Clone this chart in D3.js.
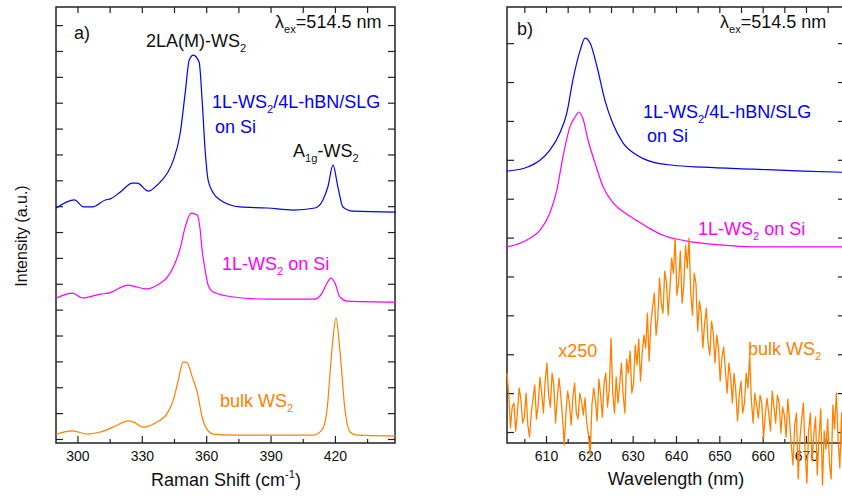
<!DOCTYPE html>
<html><head><meta charset="utf-8">
<script src="https://cdn.jsdelivr.net/npm/d3@7"></script>
<style>
html,body{margin:0;padding:0;background:#fff;}
svg{display:block;font-family:"Liberation Sans",Arial,Helvetica,sans-serif;}
</style></head><body>
<svg id="chart" width="842" height="497"></svg>
<script>
// ---------- DATA ----------
// Panel a) Raman spectra: [Raman shift (cm-1), intensity (a.u., offset)]
const ramanHetero = [[290.2,8.93],[298.6,9.24],[302.8,8.97],[307,8.97],[313,9.24],[315.3,9.28],[320,9.55],[325.6,9.89],[327.9,9.89],[333,9.58],[337.2,9.82],[341.9,10.28],[344.7,10.78],[347.9,11.83],[350.2,13.37],[352.1,14.65],[354,14.84],[356.7,14.57],[358.1,13.1],[359.5,11.17],[360.9,10.01],[363.3,9.51],[366.5,9.24],[375.8,8.97],[388.4,8.93],[400.5,8.85],[410.7,8.93],[414.4,9.24],[416.7,9.74],[419.1,10.59],[421.4,9.74],[423.7,8.97],[428.4,8.81],[448.4,8.77]];
const ramanMono = [[290.2,5.45],[297.7,5.64],[302.3,5.45],[310.7,5.6],[314.4,5.64],[323.7,5.95],[326,5.91],[332.6,5.8],[337.2,5.95],[341.9,6.26],[344.7,6.65],[347.9,7.38],[350.2,8.19],[353,8.73],[355.8,8.66],[357.2,8.08],[358.1,7.3],[359.5,6.53],[360.9,5.95],[363.3,5.68],[372.6,5.49],[388.4,5.41],[410.7,5.41],[414,5.64],[416.3,6.03],[418.1,6.22],[420,6.03],[422.3,5.49],[425.6,5.33],[448.4,5.29]];
const ramanBulk = [[290.2,0.19],[297.7,0.31],[304.7,0.19],[310.7,0.27],[316.7,0.46],[323.7,0.7],[326,0.66],[330.7,0.46],[336.3,0.62],[341.9,1.0],[344.7,1.51],[347,2.28],[349.3,2.98],[351.2,2.94],[353.5,2.4],[355.8,1.82],[358.1,0.85],[360.5,0.35],[363.3,0.19],[372.6,0.15],[409.8,0.15],[414,0.35],[416.3,1.12],[418.6,3.44],[420.5,4.68],[422.3,3.44],[424.7,1.12],[427,0.27],[430.2,0.15],[448.4,0.12]];

// Panel b) PL spectra: [wavelength (nm), intensity (a.u., offset)]
const plHetero = [[601,6.71],[605.6,6.81],[608.6,6.99],[610.9,7.25],[613.2,7.69],[614.8,8.2],[616.2,9.05],[617.9,9.82],[619,10.13],[620.2,10.0],[621.8,9.38],[623.6,8.53],[625.4,7.94],[627.8,7.43],[631,7.12],[634.7,6.94],[639.3,6.86],[646.3,6.81],[657.8,6.76],[669.4,6.71],[678.4,6.68]];
const plMono = [[601,4.76],[605.6,4.94],[608.6,5.19],[610.9,5.63],[612.5,6.22],[613.9,7.07],[615.5,7.84],[616.7,8.1],[617.6,8.23],[618.5,8.07],[619.7,7.51],[621.3,6.92],[623.2,6.3],[625.5,5.89],[628.7,5.6],[631.5,5.4],[634,5.23],[637,5.06],[642.6,4.91],[650.2,4.81],[657.8,4.76],[669.4,4.76],[678.4,4.76]];
// bulk WS2 PL, raw counts (drawn magnified x250: scaled by bulkGain, shifted by bulkOffset)
const plBulkWavelength = [601.0,601.4,601.8,602.2,602.6,603.0,603.4,603.8,604.2,604.6,605.0,605.4,605.8,606.2,606.6,607.0,607.4,607.8,608.2,608.6,609.0,609.4,609.8,610.2,610.6,611.0,611.4,611.8,612.2,612.6,613.0,613.4,613.8,614.2,614.6,615.0,615.4,615.8,616.2,616.6,617.0,617.4,617.8,618.2,618.6,619.0,619.4,619.8,620.2,620.6,621.0,621.4,621.8,622.2,622.6,623.0,623.4,623.8,624.2,624.6,625.0,625.4,625.8,626.2,626.6,627.0,627.4,627.8,628.2,628.6,629.0,629.4,629.8,630.2,630.6,631.0,631.4,631.8,632.2,632.6,633.0,633.4,633.8,634.2,634.6,635.0,635.4,635.8,636.2,636.6,637.0,637.4,637.8,638.2,638.6,639.0,639.4,639.8,640.2,640.6,641.0,641.4,641.8,642.2,642.6,643.0,643.4,643.8,644.2,644.6,645.0,645.4,645.8,646.2,646.6,647.0,647.4,647.8,648.2,648.6,649.0,649.4,649.8,650.2,650.6,651.0,651.4,651.8,652.2,652.6,653.0,653.4,653.8,654.2,654.6,655.0,655.4,655.8,656.2,656.6,657.0,657.4,657.8,658.2,658.6,659.0,659.4,659.8,660.2,660.6,661.0,661.4,661.8,662.2,662.6,663.0,663.4,663.8,664.2,664.6,665.0,665.4,665.8,666.2,666.6,667.0,667.4,667.8,668.2,668.6,669.0,669.4,669.8,670.2,670.6,671.0,671.4,671.8,672.2,672.6,673.0,673.4,673.8,674.2,674.6,675.0,675.4,675.8,676.2,676.6,677.0,677.4,677.8,678.2,678.6,679.0];
const plBulkCounts = [70,48,15,36,40, 12,30,55,44,20, 26,50,18,6,30, 44,58,24,38,66, 50,30,62,80,48, 36,70,58,20,44, 65,48,26,-2,30, 52,40,18,46,60, 30,24,50,42,28, 45,20,8,-12,38, 55,42,22,64,48, 26,60,70,36,54, 105,50,30,66,40, 58,80,48,30,84, 70,92,50,60,98, 78,104,62,90,108, 95,130,82,120,136, 150,108,125,165,140, 130,172,160,128,155, 185,170,205,148,160, 192,140,158,198,175, 205,150,128,170,160, 112,142,130,95,120, 135,100,88,122,110, 80,108,95,62,86, 96,72,50,80,66, 40,70,52,22,48, 62,30,40,70,55, 88,42,20,50,38, 25,48,40,5,28, 45,30,12,52,36, 20,48,40,10,36, 28,6,44,22,-2, -22,18,30,-36,4, 24,40,-10,-40,12, 30,-18,8,26,-32, 6,34,-42,12,-6, 24,-20,-36,38,14, 50,4,-25,30,-40, 20];
const bulkGain = 0.0257, bulkOffset = -0.283;

// Axis ticks
const ramanMajor = [300,330,360,390,420];
const ramanMinor = [315,345,375,405,435];
const plMajor = [610,620,630,640,650,660,670];
const plMinor = [605,615,625,635,645,655,665,675];
const ramanYTicks = d3.range(0,17);
const plYTicks = d3.range(0,11);

// ---------- DRAW ----------
const svg = d3.select("#chart");
const C = {blue:"#0000ff", mag:"#ff00ff", orange:"#ff8000", ink:"#111"};
const yTop = 7, yBottom = 443;

function richText(g, x, y, parts, color, size, anchor){
  const t = g.append("text").attr("x",x).attr("y",y).attr("fill",color)
    .attr("font-size",size).attr("text-anchor",anchor||"start");
  let shift = 0;
  parts.forEach(p=>{
    let txt, target, fs = null;
    if (typeof p === "string"){ txt = p; target = 0; }
    else if (p.sub!==undefined){ txt = p.sub; target = size*0.28; fs = size*0.62; }
    else { txt = p.sup; target = -size*0.42; fs = size*0.62; }
    const s = t.append("tspan").text(txt);
    if (fs) s.attr("font-size",fs);
    if (target !== shift) s.attr("dy", target - shift);
    shift = target;
  });
  return t;
}

function panel(x, y, cfg){
  const g = svg.append("g");
  const [x0,x1] = x.range();
  g.append("g").attr("transform",`translate(0,${yBottom})`)
    .call(d3.axisBottom(x).tickValues(cfg.major).tickSizeInner(-7).tickSizeOuter(0).tickPadding(8).tickFormat(d3.format("d")))
    .call(a=>{a.select(".domain").remove(); a.selectAll("text").attr("font-size",14).attr("fill",C.ink);});
  g.append("g").attr("transform",`translate(0,${yBottom})`)
    .call(d3.axisBottom(x).tickValues(cfg.minor).tickSizeInner(-4).tickSizeOuter(0).tickFormat(""))
    .call(a=>a.select(".domain").remove());
  g.append("g").attr("transform",`translate(0,${yTop})`)
    .call(d3.axisTop(x).tickValues(cfg.major.concat(cfg.minor)).tickSizeInner(-6).tickSizeOuter(0).tickFormat(""))
    .call(a=>a.select(".domain").remove());
  g.append("g").attr("transform",`translate(${x0},0)`)
    .call(d3.axisLeft(y).tickValues(cfg.yticks).tickSizeInner(-7).tickSizeOuter(0).tickFormat(""))
    .call(a=>a.select(".domain").remove());
  g.append("g").attr("transform",`translate(${x1},0)`)
    .call(d3.axisRight(y).tickValues(cfg.yticks).tickSizeInner(-7).tickSizeOuter(0).tickFormat(""))
    .call(a=>a.select(".domain").remove());
  g.selectAll(".tick line").attr("stroke","#222").attr("stroke-width",1.2);
  g.selectAll(".tick text").filter(function(){return this.textContent==="";}).remove();
  g.selectAll("g text").attr("font-family","Liberation Sans, Arial, sans-serif");
  g.append("rect").attr("x",x0).attr("y",yTop).attr("width",x1-x0).attr("height",yBottom-yTop)
    .attr("fill","none").attr("stroke","#222").attr("stroke-width",1.5);
  return g;
}

// ---- Panel a ----
const xa = d3.scaleLinear().domain([290,448]).range([56,395]);
const ya = d3.scaleLinear().domain([-0.155,16.7]).range([yBottom,yTop]);
const ga = panel(xa, ya, {major:ramanMajor, minor:ramanMinor, yticks:ramanYTicks});
const lineA = d3.line().x(d=>xa(d[0])).y(d=>ya(d[1])).curve(d3.curveMonotoneX);
[[ramanHetero,C.blue],[ramanMono,C.mag],[ramanBulk,C.orange]].forEach(([d,c])=>{
  ga.append("path").datum(d).attr("d",lineA).attr("fill","none").attr("stroke",c).attr("stroke-width",1.2);
});
richText(ga, xa(298.4), ya(15.46), ["a)"], C.ink, 18);
richText(ga, xa(331.9), ya(15.15), ["2LA(M)-WS",{sub:"2"}], C.ink, 18);
richText(ga, xa(392.1), ya(15.88), ["λ",{sub:"ex"},"=514.5 nm"], C.ink, 18);
richText(ga, xa(362.7), ya(12.79), ["1L-WS",{sub:"2"},"/4L-hBN/SLG"], C.blue, 18);
richText(ga, xa(364.1), ya(11.83), ["on Si"], C.blue, 18);
richText(ga, xa(400.5), ya(10.9), ["A",{sub:"1g"},"-WS",{sub:"2"}], C.ink, 18);
richText(ga, xa(367.4), ya(6.53), ["1L-WS",{sub:"2"}," on Si"], C.mag, 18);
richText(ga, xa(366.4), ya(1.24), ["bulk WS",{sub:"2"}], C.orange, 18);
richText(svg, 226, 486, ["Raman Shift (cm",{sup:"-1"},")"], C.ink, 18, "middle");
svg.append("text").attr("transform","translate(27,236) rotate(-90)").attr("text-anchor","middle")
  .attr("font-size",16).attr("fill",C.ink).text("Intensity (a.u.)");

// ---- Panel b ----
const xb = d3.scaleLinear().domain([601,679]).range([507,845]);
const yb = d3.scaleLinear().domain([-0.283,10.93]).range([yBottom,yTop]);
const gb = panel(xb, yb, {major:plMajor, minor:plMinor, yticks:plYTicks});
const lineB = d3.line().x(d=>xb(d[0])).y(d=>yb(d[1])).curve(d3.curveMonotoneX);
[[plHetero,C.blue],[plMono,C.mag]].forEach(([d,c])=>{
  gb.append("path").datum(d).attr("d",lineB).attr("fill","none").attr("stroke",c).attr("stroke-width",1.2);
});
const bulkPL = plBulkWavelength.map((w,i)=>[w, bulkOffset + plBulkCounts[i]*bulkGain]);
gb.append("path").datum(bulkPL)
  .attr("d", d3.line().x(d=>xb(d[0])).y(d=>yb(d[1])))
  .attr("fill","none").attr("stroke",C.orange).attr("stroke-width",1.3).attr("stroke-linejoin","round");
richText(gb, xb(603.3), yb(10.21), ["b)"], C.ink, 18);
richText(gb, xb(650.15), yb(10.39), ["λ",{sub:"ex"},"=514.5 nm"], C.ink, 18);
richText(gb, xb(632.4), yb(8.07), ["1L-WS",{sub:"2"},"/4L-hBN/SLG"], C.blue, 18);
richText(gb, xb(633.3), yb(7.46), ["on Si"], C.blue, 18);
richText(gb, xb(645.1), yb(5.06), ["1L-WS",{sub:"2"}," on Si"], C.mag, 18);
richText(gb, xb(612.8), yb(1.93), ["x250"], C.orange, 18);
richText(gb, xb(656.6), yb(1.98), ["bulk WS",{sub:"2"}], C.orange, 18);
richText(svg, 676, 485, ["Wavelength (nm)"], C.ink, 18, "middle");
</script>
</body></html>
